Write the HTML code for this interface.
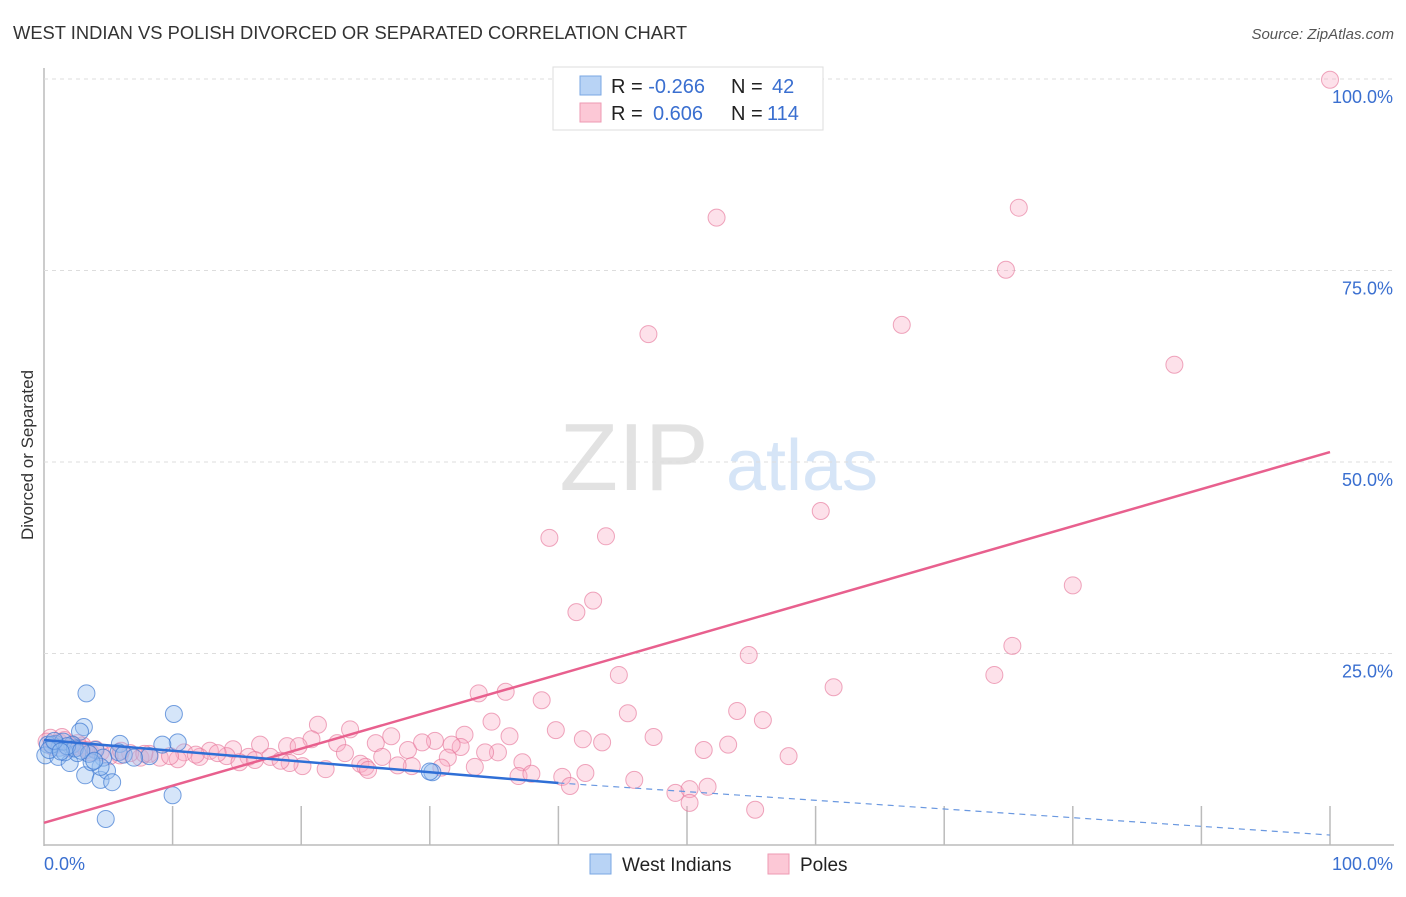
<!DOCTYPE html>
<html><head><meta charset="utf-8"><style>
body{margin:0;background:#fff;font-family:"Liberation Sans",sans-serif}
svg text{font-family:"Liberation Sans",sans-serif}
</style></head><body>
<svg id="c" width="1406" height="892" xmlns="http://www.w3.org/2000/svg">
<text x="13" y="39" font-size="18.35" fill="#333">WEST INDIAN VS POLISH DIVORCED OR SEPARATED CORRELATION CHART</text>
<text x="1394" y="39" font-size="15" fill="#555" font-style="italic" text-anchor="end">Source: ZipAtlas.com</text>
<text x="634" y="490" font-size="96" fill="#e2e2e2" font-family="Liberation Serif" text-anchor="middle">ZIP</text>
<text x="802" y="490" font-size="72" fill="#d6e5f7" text-anchor="middle">atlas</text>
<text x="33" y="455" font-size="17" fill="#333" text-anchor="middle" transform="rotate(-90 33 455)">Divorced or Separated</text>
<g id="grid"></g><g id="pts"></g><g id="lines"></g>
<g>
<rect x="553" y="67" width="270" height="63" fill="#fff" stroke="#ddd"/>
<rect x="580" y="76" width="21" height="19" fill="#b8d3f5" stroke="#7aa7e3"/>
<rect x="580" y="103" width="21" height="19" fill="#fcc8d6" stroke="#ee9ab3"/>
<text x="611" y="93" font-size="20" fill="#222">R = <tspan fill="#3a6fd0">-0.266</tspan><tspan x="731">N = </tspan><tspan x="772" fill="#3a6fd0">42</tspan></text>
<text x="611" y="120" font-size="20" fill="#222">R = <tspan x="653" fill="#3a6fd0">0.606</tspan><tspan x="731">N = </tspan><tspan x="767" fill="#3a6fd0">114</tspan></text>
</g>
<g>
<rect x="590" y="854" width="21" height="20" fill="#b8d3f5" stroke="#7aa7e3"/>
<text x="622" y="871" font-size="19" fill="#222">West Indians</text>
<rect x="768" y="854" width="21" height="20" fill="#fcc8d6" stroke="#ee9ab3"/>
<text x="800" y="871" font-size="19" fill="#222">Poles</text>
</g>
</svg>
<script>
const yTicks=[25,50,75,100];
const yTickLabels=["25.0%","50.0%","75.0%","100.0%"];
const xTickVals=[10,20,30,40,50,60,70,80,90,100];
const westX=[3.3,10.1,3.1,2.8,5.9,10.4,9.2,0.9,0.3,1.2,2.2,4.0,5.8,0.1,1.1,2.0,3.2,4.4,4.9,5.3,4.6,4.4,3.7,10.0,4.8,30.2,30.0,8.2,2.6,1.6,0.6,1.5,2.4,3.5,0.4,1.8,6.2,7.0,2.9,0.8,1.3,3.9];
const westY=[19.8,17.1,15.4,14.8,13.2,13.4,13.1,13.2,13.1,12.7,13.1,12.4,12.1,11.7,11.5,10.7,9.1,8.5,9.7,8.2,11.4,10.2,10.8,6.5,3.4,9.5,9.6,11.6,12.0,12.1,13.1,13.5,12.6,11.9,12.4,12.9,11.8,11.4,12.3,13.6,12.2,11.0];
const polesX=[100,52.3,75.8,74.8,66.7,47.0,87.9,60.4,39.3,43.7,80.0,42.7,41.4,75.3,54.8,73.9,44.7,61.4,33.8,35.9,38.7,45.4,53.9,55.9,21.3,23.8,34.8,39.8,47.4,32.7,27.0,41.9,43.4,36.2,30.4,32.4,53.2,51.3,57.9,25.8,22.8,20.8,18.9,16.8,14.7,12.9,10.9,28.3,29.4,31.7,35.3,34.3,19.8,23.4,26.3,37.2,31.4,28.6,30.9,24.6,25.0,21.9,20.1,19.1,17.6,15.9,14.2,12.1,10.4,9.0,7.5,5.9,4.4,2.8,1.2,0.5,2.2,3.6,5.1,6.7,8.2,9.8,15.2,18.4,16.4,27.5,33.5,25.2,36.9,37.9,40.3,42.1,40.9,45.9,49.1,50.2,50.2,51.6,55.3,0.9,1.6,2.4,0.2,1.9,3.0,4.0,0.7,2.6,6.0,7.8,11.8,13.5,1.4,3.3];
const polesY=[99.9,81.9,83.2,75.1,67.9,66.7,62.7,43.6,40.1,40.3,33.9,31.9,30.4,26.0,24.8,22.2,22.2,20.6,19.8,20.0,18.9,17.2,17.5,16.3,15.7,15.1,16.1,15.0,14.1,14.4,14.2,13.8,13.4,14.2,13.6,12.8,13.1,12.4,11.6,13.3,13.3,13.8,12.9,13.1,12.5,12.3,12.1,12.4,13.4,13.1,12.1,12.1,12.9,12.0,11.5,10.8,11.4,10.3,10.1,10.6,10.2,9.9,10.3,10.7,11.5,11.5,11.6,11.5,11.2,11.4,11.4,11.7,12.1,12.7,13.4,14.0,13.1,12.1,11.6,12.0,11.9,11.6,10.8,11.0,11.1,10.4,10.2,9.8,9.0,9.3,8.9,9.4,7.7,8.5,6.8,7.3,5.5,7.6,4.6,13.2,13.7,12.9,13.5,12.6,13.0,12.5,12.8,13.3,12.3,11.9,11.8,12.0,14.1,12.4];
const westLine=[[0,13.7],[40,8.1],[100,1.3]];
const polesLine=[[0,2.9],[100,51.3]];
const X=v=>44+v*12.86, Y=v=>845-v*7.66;
const NS="http://www.w3.org/2000/svg";
function mk(t,a,p){const e=document.createElementNS(NS,t);for(const k in a)e.setAttribute(k,a[k]);p.appendChild(e);return e;}
const g=document.getElementById('grid');
let ax=mk('line',{x1:44,y1:68,x2:44,y2:846,stroke:'#bbb','stroke-width':1.5},g);


let bx=mk('line',{x1:44,y1:845,x2:1394,y2:845,stroke:'#bbb','stroke-width':1.5},g);


yTicks.forEach((v,i)=>{
 const l=mk('line',{x1:44,y1:Y(v),x2:1394,y2:Y(v),stroke:'#ddd','stroke-dasharray':'4 4'},g);
 
 
 const t=mk('text',{x:1393,y:Y(v)+24,'font-size':18,fill:'#3a6fd0','text-anchor':'end'},g);
 t.textContent=yTickLabels[i];
 
 
});
xTickVals.forEach(v=>{
 const l=mk('line',{x1:X(v),y1:806,x2:X(v),y2:845,stroke:'#bbb','stroke-width':1.5},g);
 
 
});
let x0=mk('text',{x:44,y:870,'font-size':18,fill:'#3a6fd0'},g);x0.textContent='0.0%';


let x1=mk('text',{x:1393,y:870,'font-size':18,fill:'#3a6fd0','text-anchor':'end'},g);x1.textContent='100.0%';


const p=document.getElementById('pts');
polesX.forEach((v,i)=>{
 const c=mk('circle',{cx:X(v),cy:Y(polesY[i]),r:8.5,fill:'rgba(248,170,195,0.35)',stroke:'rgba(230,120,155,0.65)','stroke-width':1},p);
 
 
});
westX.forEach((v,i)=>{
 const c=mk('circle',{cx:X(v),cy:Y(westY[i]),r:8.5,fill:'rgba(150,190,240,0.4)',stroke:'rgba(60,120,210,0.7)','stroke-width':1},p);
 
 
});
const L=document.getElementById('lines');
let pl=mk('line',{x1:X(polesLine[0][0]),y1:Y(polesLine[0][1]),x2:X(polesLine[1][0]),y2:Y(polesLine[1][1]),stroke:'#e8608e','stroke-width':2.5},L);


let wl=mk('line',{x1:X(westLine[0][0]),y1:Y(westLine[0][1]),x2:X(westLine[1][0]),y2:Y(westLine[1][1]),stroke:'#2f6fd6','stroke-width':2.5},L);


let wd=mk('line',{x1:X(westLine[1][0]),y1:Y(westLine[1][1]),x2:X(westLine[2][0]),y2:Y(westLine[2][1]),stroke:'#6a98e0','stroke-width':1.2,'stroke-dasharray':'6 5'},L);


</script>
</body></html>
